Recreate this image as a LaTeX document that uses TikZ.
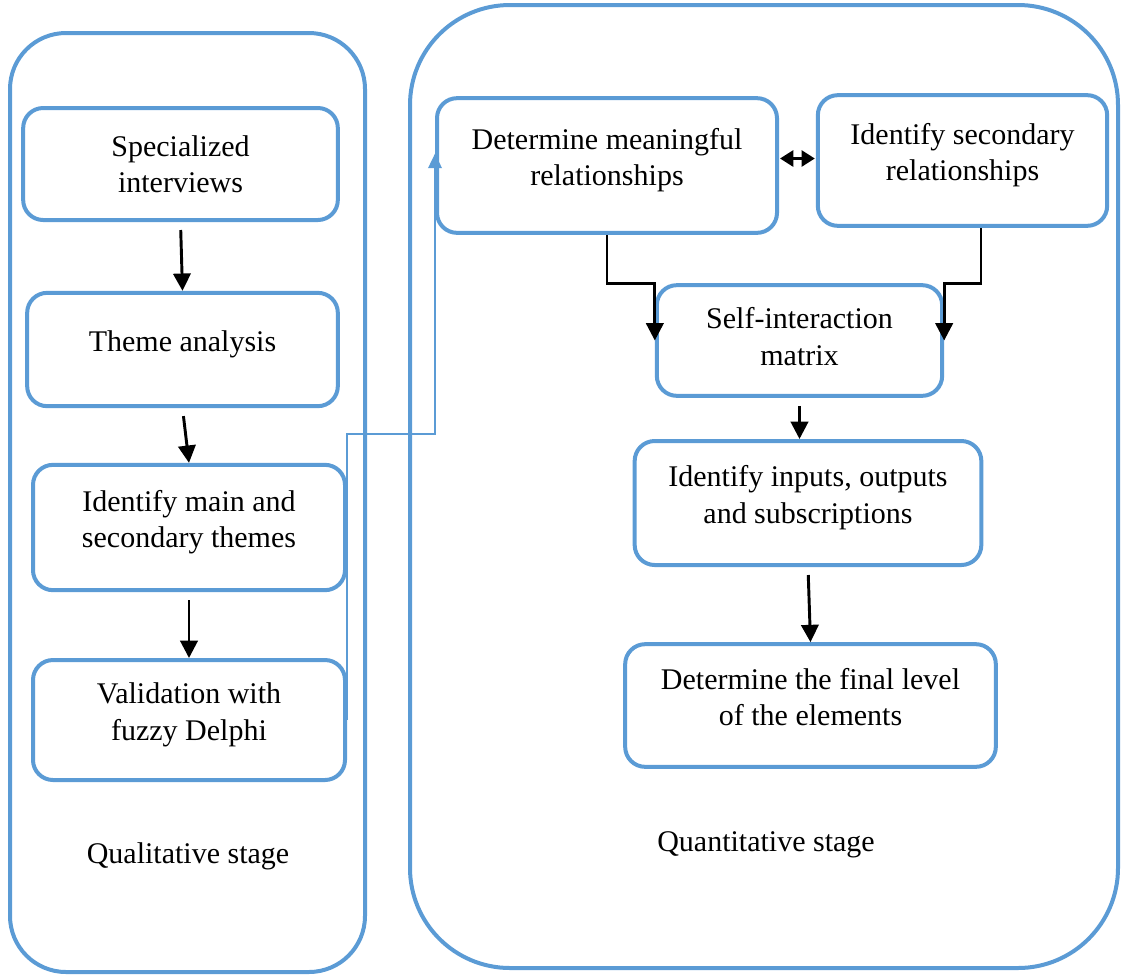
\documentclass[tikz,border=0pt]{standalone}
\usepackage{fontspec}
\setmainfont{Liberation Serif}
\usepackage{tikz}
\usetikzlibrary{arrows.meta, positioning, calc}
\definecolor{stageblue}{RGB}{91, 155, 213}

\begin{document}
\begin{tikzpicture}[x=0.75pt, y=-0.75pt,
        stepbox/.style={draw=stageblue, line width=3pt, rounded corners=15pt, align=center,
            font=\fontsize{22.5}{27.5}\selectfont, inner sep=0pt, text depth=13pt},
        flow/.style={line width=2.2pt, -{Triangle[width=13pt, length=13pt]}, shorten <=6pt},
        stagetext/.style={font=\fontsize{22.5}{27.5}\selectfont}]
        \useasboundingbox (0,0) rectangle (1121,976);

        % Qualitative stage (left)
        \draw[stageblue, line width=3pt, rounded corners=42pt] (10,33) rectangle (365,972);
        \node[stepbox, minimum width=236pt, minimum height=84pt, text depth=0pt] (spec) at (180.5,164) {Specialized\\interviews};
        \node[stepbox, minimum width=233pt, minimum height=85pt] (theme) at (182.5,349.5) {Theme analysis};
        \node[stepbox, minimum width=234pt, minimum height=94pt] (ident) at (189,527.5) {Identify main and\\secondary themes};
        \node[stepbox, minimum width=234pt, minimum height=90pt] (valid) at (189,720) {Validation with\\fuzzy Delphi};
        \node[stagetext] (qual) at (188,856) {Qualitative stage};

        \draw[flow] (spec.south) -- (theme.north);
        \draw[flow] (theme.south) -- (ident.north);
        \draw[flow] (ident.south) -- (valid.north);

        % Quantitative stage (right)
        \draw[stageblue, line width=3pt, rounded corners=75pt] (410,5) rectangle (1118,968);
        \node[stepbox, minimum width=255pt, minimum height=101pt] (detm) at (607,165.5) {Determine meaningful\\relationships};
        \node[stepbox, minimum width=217pt, minimum height=98pt] (idsec) at (962.5,160.5) {Identify secondary\\relationships};
        \node[stepbox, minimum width=214pt, minimum height=83pt, text depth=6pt] (selfm) at (799.5,340.5) {Self-interaction\\matrix};
        \node[stepbox, minimum width=260pt, minimum height=93pt] (inout) at (808,503) {Identify inputs, outputs\\and subscriptions};
        \node[stepbox, minimum width=278pt, minimum height=92pt] (final) at (810.5,705.5) {Determine the final level\\of the elements};
        \node[stagetext] (quant) at (766,845) {Quantitative stage};

        % links between the boxes
        \draw[line width=2.2pt, {Triangle[width=12pt, length=10pt]}-{Triangle[width=12pt, length=10pt]}]
            ($(detm.east)+(1,-7)$) -- ($(idsec.west |- detm.east)+(-1,-7)$);
        \draw[line width=2.2pt, -{Triangle[width=13pt, length=13pt]}]
            (detm.south) -- (detm.south |- selfm.north) -| (selfm.west);
        \coordinate (secfoot) at ($(idsec.south)+(18.5,0)$);
        \draw[line width=2.2pt, -{Triangle[width=13pt, length=13pt]}]
            (secfoot) -- (secfoot |- selfm.north) -| (selfm.east);
        \draw[flow] (selfm.south) -- (selfm.south |- inout.north);
        \draw[flow] (inout.south) -- (final.north);

        % from the qualitative stage over to the quantitative one
        \draw[stageblue, line width=1.9pt, -{Triangle[width=10pt, length=11pt]}]
            (valid.east) -- ++(0,-286) -| ($(detm.west)+(0,-12)$);
    \end{tikzpicture}
\end{document}
